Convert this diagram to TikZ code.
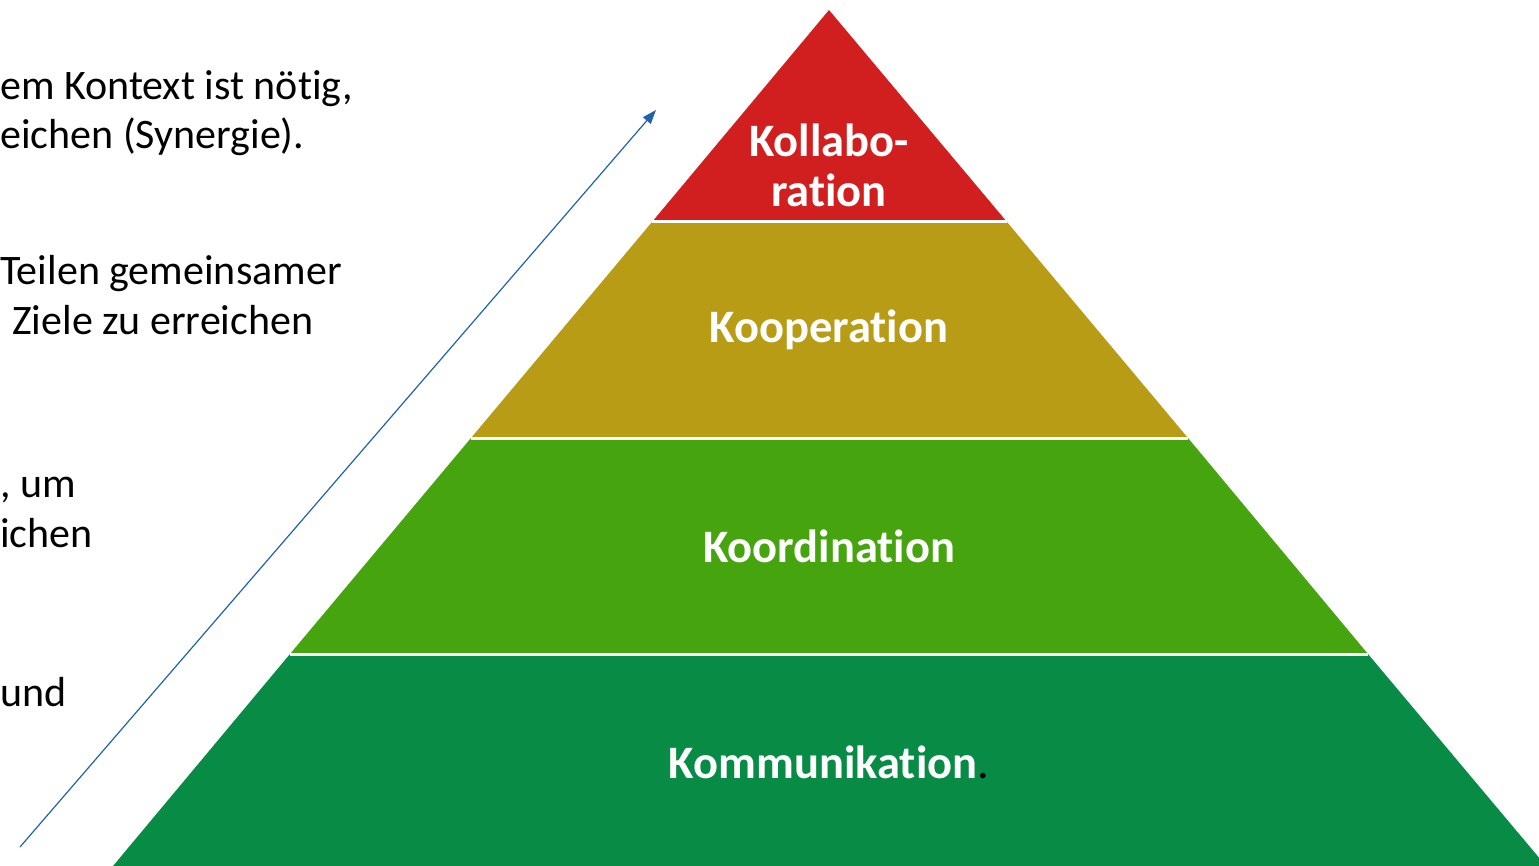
\documentclass[tikz,border=0pt]{standalone}
\usepackage{fontspec}
\setmainfont[Ligatures={NoCommon}]{Carlito}
\usetikzlibrary{arrows.meta}
\definecolor{layerred}{HTML}{D11F1F}
\definecolor{layergold}{HTML}{B99C15}
\definecolor{layergreen}{HTML}{46A50E}
\definecolor{layerdark}{HTML}{078B45}
\definecolor{arrowblue}{HTML}{1F62AE}
\tikzset{
  sidetext/.style={anchor=base west, inner sep=0pt, font=\fontsize{42}{50}\selectfont, text=black},
  levellabel/.style={inner sep=0pt, align=center, text=white, font=\fontsize{46.5}{50}\selectfont\bfseries},
  divider/.style={white, line width=3pt}
}
\begin{document}
\begin{tikzpicture}[x=1pt,y=-1pt]
\useasboundingbox (0,0) rectangle (1539,866);
\clip (0,0) rectangle (1539,866);

% pyramid corners
\coordinate (apex) at (829,10);
\coordinate (l1) at (652,222);  \coordinate (r1) at (1007,222);
\coordinate (l2) at (471,438);  \coordinate (r2) at (1188,438);
\coordinate (l3) at (290,654);  \coordinate (r3) at (1368,654);
\coordinate (l4) at (113,866);  \coordinate (r4) at (1546,866);

% layers
\fill[layerred]   (apex) -- (r1) -- (l1) -- cycle;
\fill[layergold]  (l1) -- (r1) -- (r2) -- (l2) -- cycle;
\fill[layergreen] (l2) -- (r2) -- (r3) -- (l3) -- cycle;
\fill[layerdark]  (l3) -- (r3) -- (r4) -- (l4) -- cycle;
\draw[divider] (l1) -- (r1);
\draw[divider] (l2) -- (r2);
\draw[divider] (l3) -- (r3);

% layer labels
\node[levellabel] (kollab) at (829,165) {Kollabo-\\ration};
\node[levellabel] (koop) at (829,330) {Kooperation};
\node[levellabel] (koord) at (829,546) {Koordination};
\node[levellabel] (komm) at (829,762) {Kommunikation\textcolor{black}{\mdseries.}};

% rising arrow
\coordinate (arrstart) at (20,847);
\coordinate (arrend) at (656,110);
\draw[arrowblue, line width=1.2pt, -{Triangle[length=14pt,width=10pt]}] (arrstart) -- (arrend);

% side descriptions
\node[sidetext] (d1a) at (0,100)  {em Kontext ist nötig,};
\node[sidetext] (d1b) at (0,149) {eichen (Synergie).};
\node[sidetext] (d2a) at (0,285) {Teilen gemeinsamer};
\node[sidetext] (d2b) at (12,335) {Ziele zu erreichen};
\node[sidetext] (d3a) at (0,497) {, um};
\node[sidetext] (d3b) at (0,547) {ichen};
\node[sidetext] (d4a) at (0,706) {und};
\end{tikzpicture}
\end{document}
